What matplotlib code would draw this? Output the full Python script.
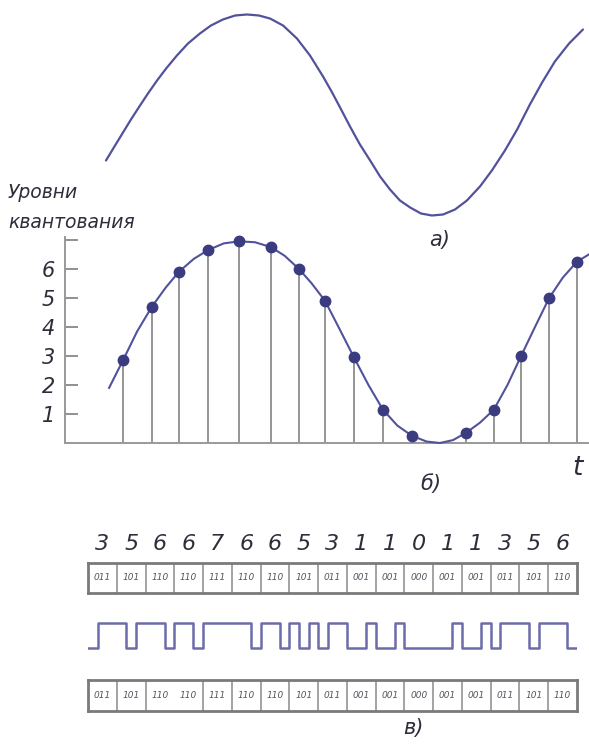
import numpy as np
import matplotlib
matplotlib.use("Agg")
import matplotlib.pyplot as plt

# ---------------- data ----------------
# top analog signal (time in sample units, relative amplitude)
top_t = [-0.60, -0.28, 0.00, 0.28, 0.60, 0.88, 1.20, 1.52, 1.90, 2.29, 2.71, 3.10,
         3.52, 3.95, 4.37, 4.79, 5.18, 5.64, 6.13, 6.59, 7.05, 7.37, 7.65, 8.00,
         8.35, 8.71, 9.06, 9.41, 9.76, 10.12, 10.50, 10.89, 11.28, 11.70, 12.12,
         12.58, 13.00, 13.46, 13.89, 14.34, 14.77, 15.22, 15.72, 16.21]
top_v = [-0.46, -0.31, -0.18, -0.05, 0.09, 0.21, 0.34, 0.46, 0.59, 0.71, 0.81, 0.89,
         0.95, 0.99, 1.00, 0.99, 0.96, 0.89, 0.76, 0.59, 0.38, 0.22, 0.07, -0.12,
         -0.30, -0.46, -0.62, -0.75, -0.86, -0.93, -0.99, -1.01, -1.00, -0.95, -0.86,
         -0.72, -0.56, -0.36, -0.15, 0.10, 0.32, 0.53, 0.71, 0.85]

# middle: continuous curve in quantization-level units
curve_t = [-0.49, 0, 0.5, 1.02, 1.5, 1.97, 2.5, 3.0, 3.55, 4.09, 4.65, 5.22, 5.7, 6.2,
           6.65, 7.12, 7.62, 8.14, 8.65, 9.16, 9.67, 10.18, 10.7, 11.17, 11.63, 12.09,
           12.58, 13.07, 13.55, 14.03, 14.52, 15.02, 15.5, 16.0, 16.42]
curve_v = [1.9, 2.85, 3.85, 4.7, 5.35, 5.9, 6.35, 6.65, 6.88, 6.95, 6.92, 6.75, 6.45,
           6.0, 5.5, 4.9, 3.95, 2.95, 2.0, 1.15, 0.6, 0.25, 0.05, 0.0, 0.1, 0.35, 0.7,
           1.15, 2.0, 3.0, 4.0, 5.0, 5.7, 6.25, 6.5]

# samples
sample_t = [0, 1.02, 1.97, 3.0, 4.09, 5.22, 6.2, 7.12, 8.14, 9.16, 10.18, 11.17,
            12.09, 13.07, 14.03, 15.02, 16.0]
sample_v = [2.85, 4.7, 5.9, 6.65, 6.95, 6.75, 6.0, 4.9, 2.95, 1.15, 0.25, 0.0,
            0.35, 1.15, 3.0, 5.0, 6.25]
sample_dot = [1, 1, 1, 1, 1, 1, 1, 1, 1, 1, 1, 0, 1, 1, 1, 1, 1]

# quantized levels and codes
levels = [3, 5, 6, 6, 7, 6, 6, 5, 3, 1, 1, 0, 1, 1, 3, 5, 6]
codes = [format(n, "03b") for n in levels]
ytick_vals = [1, 2, 3, 4, 5, 6, 7]
ytick_labels = ["1", "2", "3", "4", "5", "6", ""]
row2_missing_divider = [3]

# ---------------- style ----------------
W, H = 589, 747
CURVE = "#52529c"
DOT = "#3b3b80"
TXT = "#2e2e3a"
GRID = "#8c8c8c"
FONT = "DejaVu Sans"

fig = plt.figure(figsize=(W / 100, H / 100), dpi=100)
fig.patch.set_facecolor("white")


def px_axes(x0, y0, x1, y1):
    """axes from pixel box (top-left origin)"""
    return fig.add_axes([x0 / W, 1 - y1 / H, (x1 - x0) / W, (y1 - y0) / H])


XL = ((65 - 123) / 28.375, (589 - 123) / 28.375)

# overlay for text labels
ax0 = px_axes(0, 0, W, H)
ax0.set_xlim(0, W)
ax0.set_ylim(H, 0)
ax0.axis("off")

# ---------- top: analog signal ----------
ax_top = px_axes(65, 9.5, 589, 219.5)
ax_top.set_xlim(*XL)
ax_top.set_ylim(-1.05, 1.05)
ax_top.axis("off")
ax_top.plot(top_t, top_v, color=CURVE, lw=1.6, solid_capstyle="round",
            solid_joinstyle="round", clip_on=False)
ax0.text(440, 240, "а)", fontsize=15, style="italic", family=FONT, color=TXT,
         ha="center", va="center")

# ---------- middle: sampled signal ----------
ax_mid = px_axes(65, 237, 589, 443)
ax_mid.set_xlim(*XL)
ax_mid.set_ylim(0, 7.1)
for s in ["top", "right"]:
    ax_mid.spines[s].set_visible(False)
for s in ["left", "bottom"]:
    ax_mid.spines[s].set_color("#999999")
    ax_mid.spines[s].set_linewidth(1.4)
ax_mid.set_xticks([])
ax_mid.set_yticks(ytick_vals)
ax_mid.set_yticklabels(ytick_labels, fontsize=15, style="italic", family=FONT,
                       color=TXT)
ax_mid.tick_params(axis="y", direction="in", length=9, width=1.3, color="#888888",
                   pad=7)
ax_mid.patch.set_alpha(0)
for t, v in zip(sample_t, sample_v):
    ax_mid.vlines(t, 0, v, color=GRID, lw=1.3, zorder=2)
ax_mid.plot(curve_t, curve_v, color=CURVE, lw=1.5, zorder=3, clip_on=False,
            solid_joinstyle="round")
dt = [t for t, d in zip(sample_t, sample_dot) if d]
dv = [v for v, d in zip(sample_v, sample_dot) if d]
ax_mid.plot(dt, dv, "o", color=DOT, ms=7.5, zorder=4, clip_on=False)

ax0.text(8, 192, "Уровни", fontsize=13.5, style="italic", family=FONT, color=TXT,
         ha="left", va="center")
ax0.text(8, 222, "квантования", fontsize=13.5, style="italic", family=FONT,
         color=TXT, ha="left", va="center")
ax0.text(431, 484, "б)", fontsize=15, style="italic", family=FONT, color=TXT,
         ha="center", va="center")
ax0.text(578, 468, "t", fontsize=19, style="italic", family=FONT, color=TXT,
         ha="center", va="center")

# ---------- bottom: codes ----------
n = len(codes)


def code_row(y0, y1, missing=()):
    ax = px_axes(88, y0, 577, y1)
    ax.set_xlim(0, n)
    ax.set_ylim(0, 1)
    ax.set_xticks([])
    ax.set_yticks([])
    for s in ax.spines.values():
        s.set_color("#7a7a7a")
        s.set_linewidth(2.0)
    for k in range(1, n):
        if k in missing:
            continue
        ax.axvline(k, color="#8a8a8a", lw=1.1)
    for k, c in enumerate(codes):
        ax.text(k + 0.5, 0.5, c, fontsize=6.5, style="italic", family=FONT,
                color="#555560", ha="center", va="center")
    return ax


ax_r1 = code_row(563, 593)
for k, lv in enumerate(levels):
    ax_r1.text(k + 0.5, 1.62, str(lv), fontsize=16, style="italic", family=FONT,
               color=TXT, ha="center", va="center", clip_on=False)

# waveform from bits
bits = [int(b) for c in codes for b in c]
ax_w = px_axes(88, 618, 577, 653)
ax_w.set_xlim(0, n)
ax_w.set_ylim(-0.2, 1.2)
ax_w.axis("off")
bx = np.arange(len(bits) + 1) / 3
by = bits + [bits[-1]]
ax_w.step(bx, by, where="post", color=CURVE, lw=1.8, alpha=0.85)

code_row(680, 711, missing=row2_missing_divider)
ax0.text(413, 728, "в)", fontsize=15, style="italic", family=FONT, color=TXT,
         ha="center", va="center")

fig.savefig("out.png", dpi=100, facecolor="white")
